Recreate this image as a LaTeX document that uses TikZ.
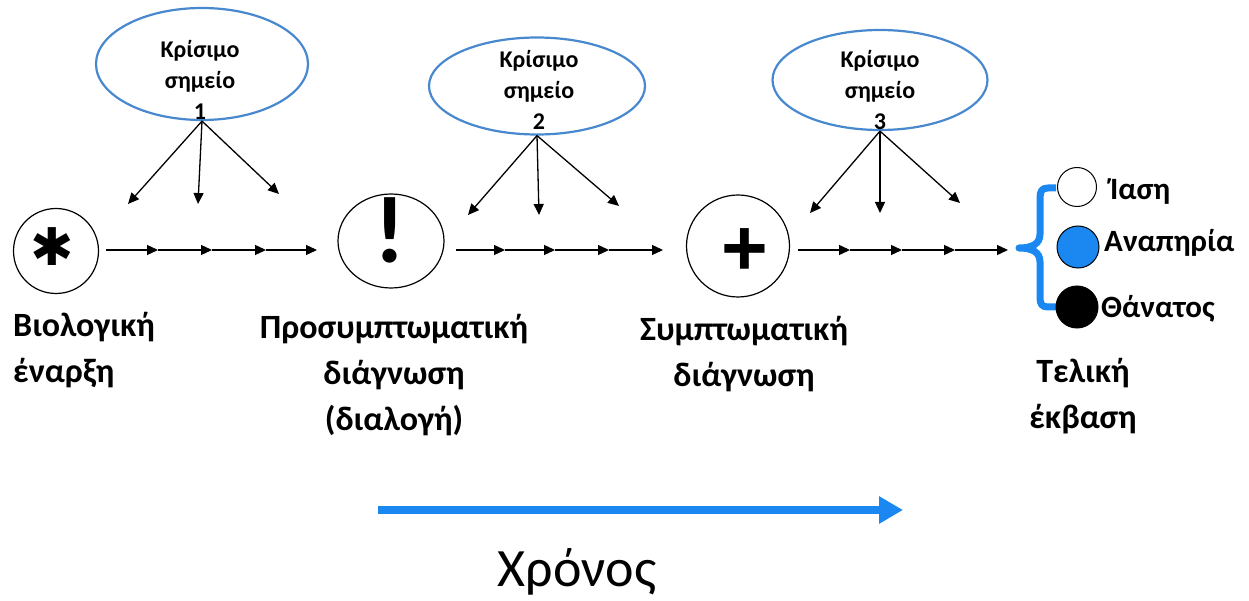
\documentclass[tikz,border=0pt]{standalone}
\usepackage{fontspec}
\setmainfont{Carlito}
\newfontfamily\symfont{Liberation Sans}
\newfontfamily\dejafont{DejaVu Sans}
\usetikzlibrary{arrows.meta,shapes.geometric}
\definecolor{ellblue}{RGB}{72,136,206}
\definecolor{brightblue}{RGB}{26,136,240}
\begin{document}
\begin{tikzpicture}[x=1pt,y=-1pt,
  crit/.style={ellipse, draw=ellblue, line width=2.2pt, inner sep=0pt},
  crittext/.style={font=\bfseries\fontsize{24}{31}\selectfont, align=center, inner sep=0pt, anchor=north},
  stage/.style={ellipse, draw, line width=1.2pt, inner sep=0pt},
  lab/.style={font=\bfseries\fontsize{34}{46}\selectfont, inner sep=0pt},
  outc/.style={font=\bfseries\fontsize{31}{34}\selectfont, inner sep=0pt, anchor=base west},
  dot/.style={circle, draw, line width=1pt, inner sep=0pt},
  glyph/.style={inner sep=0pt, anchor=base, text height=20pt, text depth=0pt},
  ar/.style={-{Triangle[length=11pt,width=10pt]}, line width=1.3pt},
]
\useasboundingbox (0,0) rectangle (1249,601);

% critical point ellipses
\node[crit, minimum width=212pt, minimum height=112pt] (e1) at (202,64) {};
\node[crit, minimum width=216pt, minimum height=97pt] (e2) at (537,86) {};
\node[crit, minimum width=215pt, minimum height=100pt] (e3) at (880,80) {};
\node[crittext] (t1) at (200,40) {Κρίσιμο\\σημείο\\1};
\node[crittext] (t2) at (539,50) {Κρίσιμο\\σημείο\\2};
\node[crittext] (t3) at (880,50) {Κρίσιμο\\σημείο\\3};

% stage circles
\node[stage, minimum width=85pt, minimum height=85pt] (s1) at (56,251) {};
\node[stage, minimum width=106pt, minimum height=94pt] (s2) at (391,241) {};
\node[stage, minimum width=103pt, minimum height=102pt] (s3) at (738,246) {};
\node[inner sep=0pt, font=\dejafont\fontsize{52}{52}\selectfont] (g1) at (52,247) {✱};
\node[glyph, font=\bfseries\fontsize{95}{95}\selectfont] (g2) at (390,263) {!};
\node[glyph, font=\symfont\bfseries\fontsize{80}{80}\selectfont] (g3) at (745,276) {+};

% chain coordinates
\foreach \n/\x in {1/106,2/158,3/212,4/266,5/317}{\coordinate (a\n) at (\x,250);}
\foreach \n/\x in {1/456,2/505,3/555,4/609,5/663}{\coordinate (b\n) at (\x,250);}
\foreach \n/\x in {1/798,2/850,3/902,4/955,5/1008}{\coordinate (c\n) at (\x,250);}
\foreach \p/\q in {1/2,2/3,3/4,4/5}{
  \draw[ar] (a\p) -- (a\q);
  \draw[ar] (b\p) -- (b\q);
  \draw[ar] (c\p) -- (c\q);
}

% arrows from critical points
\coordinate (p1l) at (128,204); \coordinate (p1m) at (198,204); \coordinate (p1r) at (279,194);
\coordinate (p2l) at (468,215); \coordinate (p2m) at (539,215); \coordinate (p2r) at (619,206);
\coordinate (p3l) at (810,213); \coordinate (p3m) at (880,213); \coordinate (p3r) at (960,203);
\foreach \i in {1,2,3}{
  \draw[ar] (e\i.south) -- (p\i l);
  \draw[ar] (e\i.south) -- (p\i m);
  \draw[ar] (e\i.south) -- (p\i r);
}

% stage labels
\node[lab, anchor=north west, align=left] (l1) at (13,312) {Βιολογική\\έναρξη};
\node[lab, anchor=north, align=center] (l2) at (394,314) {Προσυμπτωματική\\διάγνωση\\(διαλογή)};
\node[lab, anchor=north, align=center] (l3) at (744,316) {Συμπτωματική\\διάγνωση};
\node[lab, anchor=north, align=center] (l4) at (1083,358) {Τελική\\έκβαση};

% brace
\draw[brightblue, line width=7pt, line cap=butt, line join=round]
  (1056,188) -- (1048,188) .. controls (1042,188) and (1040,191) .. (1040,198)
  -- (1040,234) .. controls (1040,244) and (1032,248) .. (1019,248)
  .. controls (1032,248) and (1040,252) .. (1040,262)
  -- (1040,298) .. controls (1040,304) and (1042,307) .. (1048,307) -- (1056,307);

% outcomes
\node[dot, fill=white, minimum size=39pt] (o1) at (1077,187) {};
\node[dot, fill=brightblue, minimum size=42pt] (o2) at (1078,247) {};
\node[dot, fill=black, minimum size=42pt] (o3) at (1077,307) {};
\node[outc] (n1) at (1110,200) {Ίαση};
\node[outc] (n2) at (1104,252) {Αναπηρία};
\node[outc] (n3) at (1101,317) {Θάνατος};

% time arrow
\coordinate (tA) at (378,510);
\coordinate (tB) at (903,510);
\draw[brightblue, line width=8pt, -{Triangle[length=24pt,width=26pt]}] (tA) -- (tB);
\node[font=\fontsize{54}{60}\selectfont, inner sep=0pt, anchor=base, text depth=0pt] (time) at (577,586) {Χρόνος};
\end{tikzpicture}
\end{document}
